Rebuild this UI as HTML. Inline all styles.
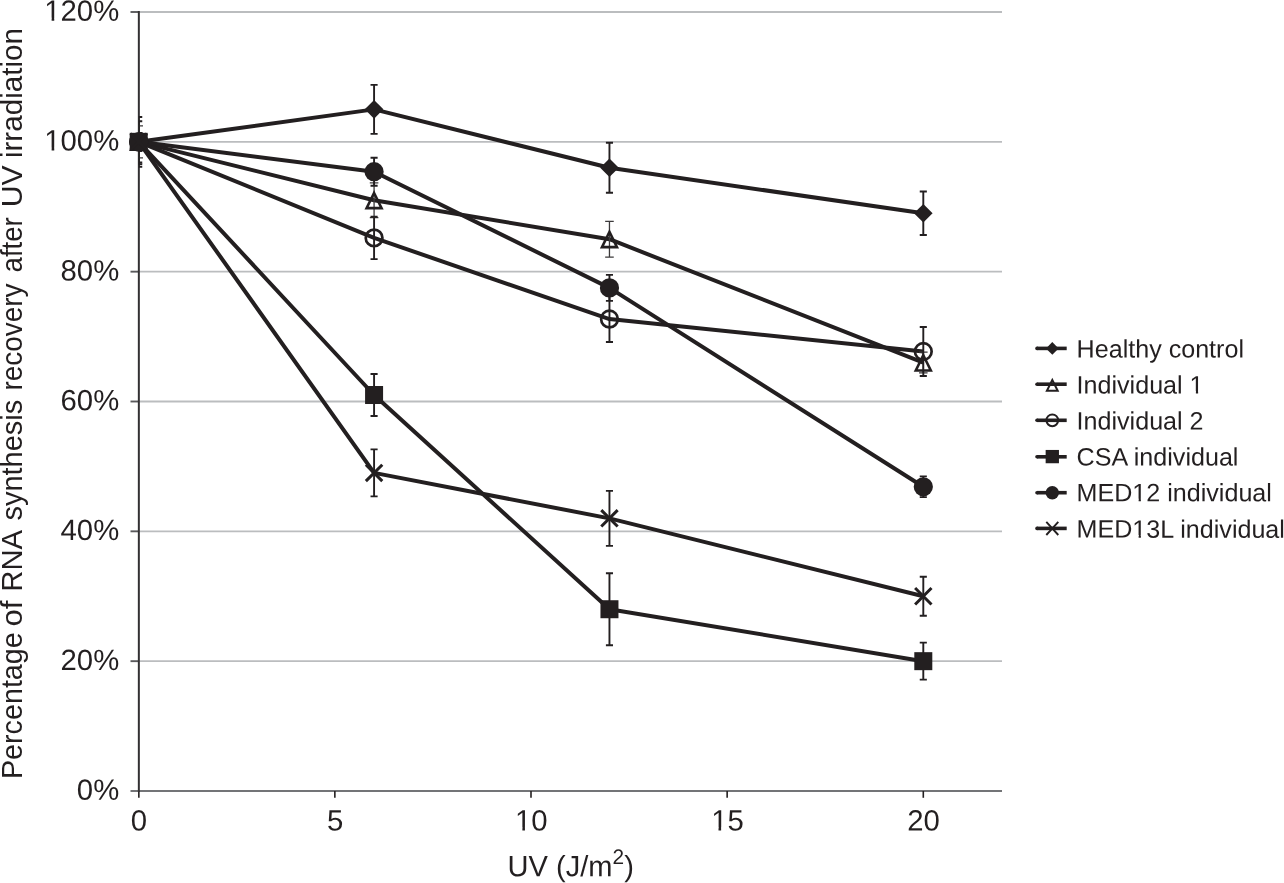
<!DOCTYPE html>
<html lang="en"><head><meta charset="utf-8"><title>RNA synthesis recovery after UV irradiation</title>
<style>
html,body{margin:0;padding:0;background:#fff;}
body{width:1284px;height:883px;overflow:hidden;font-family:"Liberation Sans",sans-serif;}
svg{display:block;will-change:transform;}
text{font-family:"Liberation Sans",sans-serif;fill:#231f20;}
</style></head><body>
<svg width="1284" height="883" viewBox="0 0 1284 883">
<rect x="0" y="0" width="1284" height="883" fill="#ffffff"/>
<g stroke="#bbbdbf" stroke-width="1.85" fill="none">
<line x1="138.7" y1="661.17" x2="1002" y2="661.17"/>
<line x1="138.7" y1="531.33" x2="1002" y2="531.33"/>
<line x1="138.7" y1="401.50" x2="1002" y2="401.50"/>
<line x1="138.7" y1="271.66" x2="1002" y2="271.66"/>
<line x1="138.7" y1="141.83" x2="1002" y2="141.83"/>
<line x1="138.7" y1="12.00" x2="1002" y2="12.00"/>
</g>
<g fill="none">
<line x1="130.5" y1="791.0" x2="1002" y2="791.0" stroke="#737477" stroke-width="2"/>
<g stroke="#5a5a5c" stroke-width="1.9">
<line x1="130.5" y1="661.17" x2="138.85" y2="661.17"/>
<line x1="130.5" y1="531.33" x2="138.85" y2="531.33"/>
<line x1="130.5" y1="401.50" x2="138.85" y2="401.50"/>
<line x1="130.5" y1="271.66" x2="138.85" y2="271.66"/>
<line x1="130.5" y1="141.83" x2="138.85" y2="141.83"/>
<line x1="130.5" y1="12.00" x2="138.85" y2="12.00"/>
</g>
<g stroke="#231f20" stroke-width="1.6">
<line x1="138.85" y1="791.0" x2="138.85" y2="797.8"/>
<line x1="334.85" y1="791.0" x2="334.85" y2="797.8"/>
<line x1="531.00" y1="791.0" x2="531.00" y2="797.8"/>
<line x1="727.15" y1="791.0" x2="727.15" y2="797.8"/>
<line x1="923.30" y1="791.0" x2="923.30" y2="797.8"/>
</g>
<line x1="138.85" y1="11.1" x2="138.85" y2="792" stroke="#333133" stroke-width="2"/>
</g>
<text transform="translate(119.20 799.80) rotate(0.03) scale(1.0000 1)" font-size="29.30" text-anchor="end">0%</text>
<text transform="translate(119.20 669.97) rotate(0.03) scale(1.0000 1)" font-size="29.30" text-anchor="end">20%</text>
<text transform="translate(119.20 540.13) rotate(0.03) scale(1.0000 1)" font-size="29.30" text-anchor="end">40%</text>
<text transform="translate(119.20 410.30) rotate(0.03) scale(1.0000 1)" font-size="29.30" text-anchor="end">60%</text>
<text transform="translate(119.20 280.46) rotate(0.03) scale(1.0000 1)" font-size="29.30" text-anchor="end">80%</text>
<text transform="translate(119.20 150.63) rotate(0.03) scale(1.0000 1)" font-size="29.30" text-anchor="end" class="n1">100%</text><g transform="translate(119.20 150.63) rotate(0.03) scale(1.0000 1)" fill="#ffffff"><rect x="-73.51" y="-2.89" width="5.94" height="4.19"/><rect x="-64.98" y="-2.89" width="5.71" height="4.19"/></g>
<text transform="translate(119.20 20.80) rotate(0.03) scale(1.0000 1)" font-size="29.30" text-anchor="end" class="n1">120%</text><g transform="translate(119.20 20.80) rotate(0.03) scale(1.0000 1)" fill="#ffffff"><rect x="-73.51" y="-2.89" width="5.94" height="4.19"/><rect x="-64.98" y="-2.89" width="5.71" height="4.19"/></g>
<text transform="translate(139.00 830.40) rotate(0.03) scale(1.0000 1)" font-size="29.30" text-anchor="middle">0</text>
<text transform="translate(335.15 830.40) rotate(0.03) scale(1.0000 1)" font-size="29.30" text-anchor="middle">5</text>
<text transform="translate(531.30 830.40) rotate(0.03) scale(1.0000 1)" font-size="29.30" text-anchor="middle" class="n1">10</text><g transform="translate(531.30 830.40) rotate(0.03) scale(1.0000 1)" fill="#ffffff"><rect x="-14.87" y="-2.89" width="5.94" height="4.19"/><rect x="-6.34" y="-2.89" width="5.71" height="4.19"/></g>
<text transform="translate(727.45 830.40) rotate(0.03) scale(1.0000 1)" font-size="29.30" text-anchor="middle" class="n1">15</text><g transform="translate(727.45 830.40) rotate(0.03) scale(1.0000 1)" fill="#ffffff"><rect x="-14.87" y="-2.89" width="5.94" height="4.19"/><rect x="-6.34" y="-2.89" width="5.71" height="4.19"/></g>
<text transform="translate(923.60 830.40) rotate(0.03) scale(1.0000 1)" font-size="29.30" text-anchor="middle">20</text>
<text transform="translate(507.50 876.30) rotate(0.03) scale(0.9930 1)" font-size="29.30" text-anchor="start">UV (J/m<tspan font-size="21" dy="-12.4">2</tspan><tspan dy="12.4">)</tspan></text>
<text transform="translate(22.2 779.10) rotate(-90) scale(0.9807 1)" font-size="29.3">Percentage</text>
<text transform="translate(22.2 626.60) rotate(-90) scale(1.0593 1)" font-size="29.3">of</text>
<text transform="translate(22.2 591.70) rotate(-90) scale(0.9985 1)" font-size="29.3">RNA</text>
<text transform="translate(22.2 520.50) rotate(-90) scale(0.9880 1)" font-size="29.3">synthesis</text>
<text transform="translate(22.2 390.60) rotate(-90) scale(0.9537 1)" font-size="29.3">recovery</text>
<text transform="translate(22.2 272.40) rotate(-90) scale(0.9405 1)" font-size="29.3">after</text>
<text transform="translate(22.2 207.20) rotate(-90) scale(1.0300 1)" font-size="29.3">UV</text>
<text transform="translate(22.2 158.10) rotate(-90) scale(1.0110 1)" font-size="29.3">irradiation</text>
<defs><clipPath id="pa"><rect x="138.7" y="0" width="900" height="791.0"/></clipPath></defs>
<g fill="none" stroke="#231f20" stroke-width="4.0" stroke-linejoin="round">
<polyline points="138.70,141.83 374.08,109.37 609.46,167.80 923.30,213.24"/>
<polyline points="138.70,141.83 374.08,200.26 609.46,239.21 923.30,362.55"/>
<polyline points="138.70,141.83 374.08,237.91 609.46,319.05 923.30,351.51"/>
<polyline points="138.70,141.83 374.08,395.01 609.46,609.23 923.30,661.17"/>
<polyline points="138.70,141.83 374.08,171.69 609.46,287.89 923.30,486.73"/>
<polyline points="138.70,141.83 374.08,472.91 609.46,518.35 923.30,596.25"/>
</g>
<g fill="none" stroke="#231f20" stroke-width="1.9" clip-path="url(#pa)">
<path d="M138.70 116.93V166.73M135.15 116.93H142.25M135.15 166.73H142.25"/>
<path d="M374.08 84.87V133.87M370.53 84.87H377.63M370.53 133.87H377.63"/>
<path d="M609.46 142.80V192.80M605.91 142.80H613.01M605.91 192.80H613.01"/>
<path d="M923.30 191.54V234.94M919.75 191.54H926.85M919.75 234.94H926.85"/>
<path stroke-width="1.3" stroke="#3c3a3b" d="M138.70 125.83V157.83M134.40 125.83H143.00M134.40 157.83H143.00"/>
<path stroke-width="1.3" stroke="#3c3a3b" d="M374.08 182.96V217.56M369.78 182.96H378.38M369.78 217.56H378.38"/>
<path stroke-width="1.3" stroke="#3c3a3b" d="M609.46 221.31V257.11M605.16 221.31H613.76M605.16 257.11H613.76"/>
<path stroke-width="1.3" stroke="#3c3a3b" d="M923.30 352.15V372.95M919.00 352.15H927.60M919.00 372.95H927.60"/>
<path d="M138.70 121.23V162.43M135.15 121.23H142.25M135.15 162.43H142.25"/>
<path d="M374.08 216.71V259.11M370.53 216.71H377.63M370.53 259.11H377.63"/>
<path d="M609.46 296.05V342.05M605.91 296.05H613.01M605.91 342.05H613.01"/>
<path d="M923.30 327.01V376.01M919.75 327.01H926.85M919.75 376.01H926.85"/>
<path d="M138.70 132.83V150.83M135.15 132.83H142.25M135.15 150.83H142.25"/>
<path d="M374.08 374.01V416.01M370.53 374.01H377.63M370.53 416.01H377.63"/>
<path d="M609.46 573.23V645.23M605.91 573.23H613.01M605.91 645.23H613.01"/>
<path d="M923.30 642.67V679.67M919.75 642.67H926.85M919.75 679.67H926.85"/>
<path d="M138.70 132.83V150.83M135.15 132.83H142.25M135.15 150.83H142.25"/>
<path d="M374.08 157.69V185.69M370.53 157.69H377.63M370.53 185.69H377.63"/>
<path d="M609.46 274.89V300.89M605.91 274.89H613.01M605.91 300.89H613.01"/>
<path d="M923.30 476.33V497.13M919.75 476.33H926.85M919.75 497.13H926.85"/>
<path d="M138.70 132.83V150.83M135.15 132.83H142.25M135.15 150.83H142.25"/>
<path d="M374.08 449.41V496.41M370.53 449.41H377.63M370.53 496.41H377.63"/>
<path d="M609.46 490.85V545.85M605.91 490.85H613.01M605.91 545.85H613.01"/>
<path d="M923.30 576.75V615.75M919.75 576.75H926.85M919.75 615.75H926.85"/>
<path d="M135.15 164.13H142.25"/>
</g>
<g>
<path d="M138.70 132.53L148.00 141.83L138.70 151.13L129.40 141.83Z" fill="#231f20"/>
<path d="M374.08 100.07L383.38 109.37L374.08 118.67L364.78 109.37Z" fill="#231f20"/>
<path d="M609.46 158.50L618.76 167.80L609.46 177.10L600.16 167.80Z" fill="#231f20"/>
<path d="M923.30 203.94L932.60 213.24L923.30 222.54L914.00 213.24Z" fill="#231f20"/>
<path d="M138.70 134.53L146.20 149.73L131.20 149.73Z" fill="none" stroke="#231f20" stroke-width="2.60" stroke-linejoin="miter"/>
<path d="M374.08 192.96L381.58 208.16L366.58 208.16Z" fill="none" stroke="#231f20" stroke-width="2.60" stroke-linejoin="miter"/>
<path d="M609.46 231.91L616.96 247.11L601.96 247.11Z" fill="none" stroke="#231f20" stroke-width="2.60" stroke-linejoin="miter"/>
<path d="M923.30 355.25L930.80 370.45L915.80 370.45Z" fill="none" stroke="#231f20" stroke-width="2.60" stroke-linejoin="miter"/>
<circle cx="138.70" cy="141.83" r="8.35" fill="none" stroke="#231f20" stroke-width="2.70"/>
<circle cx="374.08" cy="237.91" r="8.35" fill="none" stroke="#231f20" stroke-width="2.70"/>
<circle cx="609.46" cy="319.05" r="8.35" fill="none" stroke="#231f20" stroke-width="2.70"/>
<circle cx="923.30" cy="351.51" r="8.35" fill="none" stroke="#231f20" stroke-width="2.70"/>
<rect x="129.70" y="132.83" width="18.00" height="18.00" fill="#231f20"/>
<rect x="365.08" y="386.01" width="18.00" height="18.00" fill="#231f20"/>
<rect x="600.46" y="600.23" width="18.00" height="18.00" fill="#231f20"/>
<rect x="914.30" y="652.17" width="18.00" height="18.00" fill="#231f20"/>
<circle cx="138.70" cy="141.83" r="9.60" fill="#231f20"/>
<circle cx="374.08" cy="171.69" r="9.60" fill="#231f20"/>
<circle cx="609.46" cy="287.89" r="9.60" fill="#231f20"/>
<circle cx="923.30" cy="486.73" r="9.60" fill="#231f20"/>
<path d="M130.50 133.63L146.90 150.03M130.50 150.03L146.90 133.63" fill="none" stroke="#231f20" stroke-width="3.00"/>
<path d="M365.88 464.71L382.28 481.11M365.88 481.11L382.28 464.71" fill="none" stroke="#231f20" stroke-width="3.00"/>
<path d="M601.26 510.15L617.66 526.55M601.26 526.55L617.66 510.15" fill="none" stroke="#231f20" stroke-width="3.00"/>
<path d="M915.10 588.05L931.50 604.45M915.10 604.45L931.50 588.05" fill="none" stroke="#231f20" stroke-width="3.00"/>
</g>
<g>
<line x1="1037.0" y1="348.4" x2="1066.7" y2="348.4" stroke="#231f20" stroke-width="3.6"/>
<circle cx="1037.0" cy="348.4" r="1.8" fill="#231f20"/>
<path d="M1052.30 342.10L1058.60 348.40L1052.30 354.70L1046.00 348.40Z" fill="#231f20"/>
<text transform="translate(1076.60 357.50) rotate(0.03) scale(1.0000 1)" font-size="25.10" text-anchor="start">Healthy control</text>
<line x1="1037.0" y1="384.2" x2="1066.7" y2="384.2" stroke="#231f20" stroke-width="3.6"/>
<circle cx="1037.0" cy="384.2" r="1.8" fill="#231f20"/>
<path d="M1052.30 380.00L1057.70 390.70L1046.90 390.70Z" fill="none" stroke="#231f20" stroke-width="2" stroke-linejoin="miter"/>
<text transform="translate(1076.60 393.40) rotate(0.03) scale(1.0000 1)" font-size="25.10" text-anchor="start" class="n1">Individual 1</text><g transform="translate(1076.60 393.40) rotate(0.03) scale(1.0000 1)" fill="#ffffff"><rect x="114.10" y="-2.58" width="5.20" height="3.88"/><rect x="121.51" y="-2.58" width="5.00" height="3.88"/></g>
<line x1="1037.0" y1="420.3" x2="1066.7" y2="420.3" stroke="#231f20" stroke-width="3.6"/>
<circle cx="1037.0" cy="420.3" r="1.8" fill="#231f20"/>
<circle cx="1052.30" cy="420.30" r="5.85" fill="none" stroke="#231f20" stroke-width="2"/>
<text transform="translate(1076.60 429.50) rotate(0.03) scale(1.0000 1)" font-size="25.10" text-anchor="start">Individual 2</text>
<line x1="1037.0" y1="456.8" x2="1066.7" y2="456.8" stroke="#231f20" stroke-width="3.6"/>
<circle cx="1037.0" cy="456.8" r="1.8" fill="#231f20"/>
<rect x="1045.65" y="449.95" width="13.30" height="13.30" fill="#231f20"/>
<text transform="translate(1076.60 465.40) rotate(0.03) scale(1.0000 1)" font-size="25.10" text-anchor="start">CSA individual</text>
<line x1="1037.0" y1="492.7" x2="1066.7" y2="492.7" stroke="#231f20" stroke-width="3.6"/>
<circle cx="1037.0" cy="492.7" r="1.8" fill="#231f20"/>
<circle cx="1052.30" cy="492.70" r="6.7" fill="#231f20"/>
<text transform="translate(1076.60 501.20) rotate(0.03) scale(1.0000 1)" font-size="25.10" text-anchor="start" class="n1">MED12 individual</text><g transform="translate(1076.60 501.20) rotate(0.03) scale(1.0000 1)" fill="#ffffff"><rect x="56.86" y="-2.58" width="5.20" height="3.88"/><rect x="64.28" y="-2.58" width="5.00" height="3.88"/></g>
<line x1="1037.0" y1="528.4" x2="1066.7" y2="528.4" stroke="#231f20" stroke-width="3.6"/>
<circle cx="1037.0" cy="528.4" r="1.8" fill="#231f20"/>
<path d="M1046.30 521.80L1058.30 535.00M1046.30 535.00L1058.30 521.80" fill="none" stroke="#231f20" stroke-width="1.9"/>
<text transform="translate(1076.60 537.60) rotate(0.03) scale(1.0000 1)" font-size="25.10" text-anchor="start" class="n1">MED13L individual</text><g transform="translate(1076.60 537.60) rotate(0.03) scale(1.0000 1)" fill="#ffffff"><rect x="56.86" y="-2.58" width="5.20" height="3.88"/><rect x="64.28" y="-2.58" width="5.00" height="3.88"/></g>
</g>
</svg>
</body></html>
